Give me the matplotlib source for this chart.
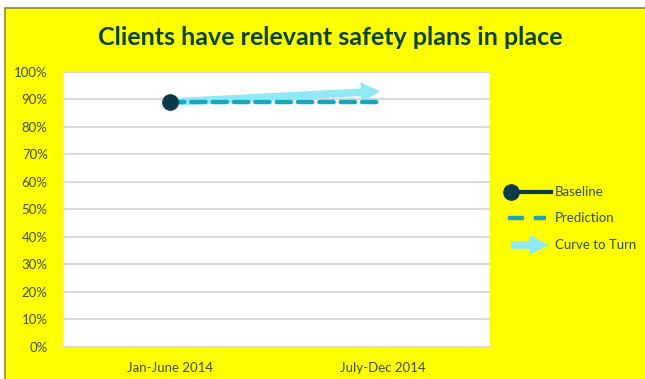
import matplotlib
matplotlib.use("Agg")
import matplotlib.pyplot as plt
from matplotlib.lines import Line2D
from matplotlib.patches import Rectangle, FancyArrowPatch
from matplotlib.ticker import PercentFormatter

YELLOW = "#ffff00"
DARK_GREEN = "#0c4420"
TICK_TEXT = "#3f4f2a"
GRID = "#d9d9d9"
BASE_COLOR = "#0b3b47"
PRED_COLOR = "#1ba6bd"
CURVE_COLOR = "#8fe9f7"

plt.rcParams["font.family"] = ["Lato", "DejaVu Sans"]

periods = ["Jan-June 2014", "July-Dec 2014"]
baseline = [89]
prediction = [89, 89]
curve_to_turn = [89, 93]
y_ticks = list(range(0, 101, 10))

fig = plt.figure(figsize=(6.45, 3.79), dpi=100)
fig.patch.set_facecolor("white")
# yellow card with a thin olive frame on the top and left
fig.patches.append(Rectangle((0.008, -0.05), 1.05, 1.03, transform=fig.transFigure,
                             facecolor=YELLOW, edgecolor="#8a8a3a", linewidth=1.2,
                             zorder=-10))

ax = fig.add_axes([0.0977, 0.0844, 0.662, 0.726])
ax.set_facecolor("white")
x = list(range(len(periods)))

ax.plot(x, prediction, color=PRED_COLOR, linewidth=3.2, linestyle=(0, (3.2, 1.6)),
        solid_capstyle="round", dash_capstyle="round", zorder=3)
ax.add_patch(FancyArrowPatch((x[0], curve_to_turn[0]), (x[1], curve_to_turn[1]),
                             arrowstyle="simple,head_width=1.4,head_length=1.4,tail_width=0.55",
                             mutation_scale=10, color=CURVE_COLOR, linewidth=0, zorder=2))
ax.plot(x[:len(baseline)], baseline, "o", color=BASE_COLOR, markersize=11, zorder=4)

ax.set_xlim(-0.5, len(periods) - 0.5)
ax.set_ylim(0, 100)
ax.set_xticks(x)
ax.set_xticklabels(periods)
ax.set_yticks(y_ticks)
ax.yaxis.set_major_formatter(PercentFormatter(decimals=0))
ax.tick_params(length=0, labelsize=9.5, labelcolor=TICK_TEXT)
ax.tick_params(axis="x", pad=11)
ax.tick_params(axis="y", pad=11)
ax.grid(axis="y", color=GRID, linewidth=1.4)
ax.set_axisbelow(True)
for name, spine in ax.spines.items():
    spine.set_visible(name == "bottom")
ax.spines["bottom"].set_color(GRID)
ax.spines["bottom"].set_linewidth(1.4)

fig.text(0.512, 0.90, "Clients have relevant safety plans in place", ha="center",
         va="center", fontsize=18, fontweight="bold", color=DARK_GREEN)

# legend drawn on its own overlay axes
lg = fig.add_axes([0, 0, 1, 1], facecolor="none")
lg.set_xlim(0, 645)
lg.set_ylim(379, 0)
lg.axis("off")
lg.add_line(Line2D([511, 551], [192, 192], color=BASE_COLOR, linewidth=3))
lg.plot([511], [192], "o", color=BASE_COLOR, markersize=11)
lg.add_line(Line2D([508, 546], [218, 218], color=PRED_COLOR, linewidth=3.2,
                   linestyle=(0, (3.6, 2.2))))
lg.add_patch(FancyArrowPatch((508, 245), (552, 245),
                             arrowstyle="simple,head_width=1.4,head_length=1.4,tail_width=0.55",
                             mutation_scale=10, color=CURVE_COLOR, linewidth=0))
for label, yy in zip(["Baseline", "Prediction", "Curve to Turn"], [192, 218, 245]):
    lg.text(555, yy, label, ha="left", va="center", fontsize=9.5, color="#2f4f3a")

fig.savefig("out.png", dpi=100)
